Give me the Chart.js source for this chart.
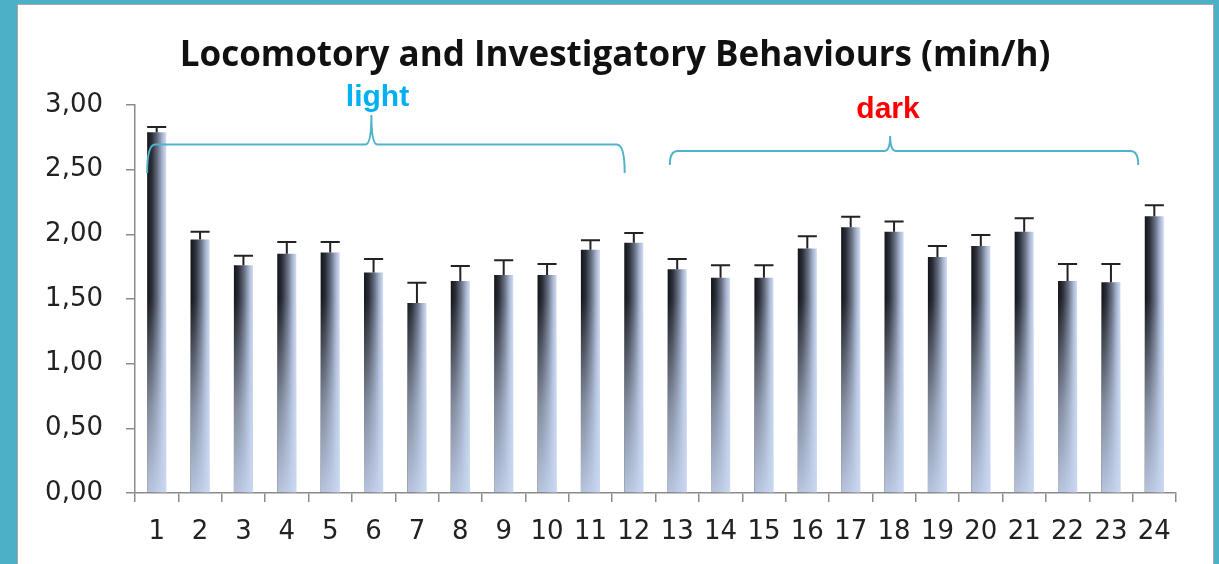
<!DOCTYPE html>
<html>
<head>
<meta charset="utf-8">
<script src="https://cdn.jsdelivr.net/npm/chart.js@4/dist/chart.umd.min.js"></script>
<style>
html,body{margin:0;padding:0;background:#4cb1c6;}
#wrap{width:1219px;height:564px;position:relative;}
canvas{display:block;}
</style>
</head>
<body>
<div id="wrap"><canvas id="c" width="1219" height="564"></canvas></div>
<script>
// ---- data ----
const hours = ['1','2','3','4','5','6','7','8','9','10','11','12','13','14','15','16','17','18','19','20','21','22','23','24'];
const meanValues = [2.79,1.96,1.76,1.85,1.86,1.705,1.47,1.64,1.685,1.685,1.88,1.935,1.73,1.665,1.665,1.89,2.055,2.02,1.825,1.91,2.02,1.64,1.63,2.14];
const errorValues = [0.04,0.06,0.075,0.09,0.08,0.105,0.155,0.115,0.115,0.085,0.075,0.075,0.08,0.095,0.095,0.095,0.08,0.08,0.085,0.085,0.105,0.13,0.14,0.085];
const yTickLabels = ['0,00','0,50','1,00','1,50','2,00','2,50','3,00'];
const titleText = 'Locomotory and Investigatory Behaviours (min/h)';
const phaseLabels = ['light','dark'];
// brace annotations in data units: [xStart, xTip, xEnd, yLine, yEnds, yTip, labelX, labelY]
const lightBrace = [-0.22, 4.95, 10.79, 2.695, 2.474, 2.923, 5.09, 2.992];
const darkBrace = [11.83, 16.91, 22.63, 2.644, 2.536, 2.760, 16.86, 2.897];

const BAR_PCT = 0.44;

const framePlugin = {
  id: 'frame',
  beforeDraw(chart) {
    const ctx = chart.ctx;
    ctx.save();
    ctx.fillStyle = '#4cb1c6';
    ctx.fillRect(0, 0, chart.width, chart.height);
    ctx.fillStyle = '#ffffff';
    ctx.fillRect(18, 5, 1195, chart.height);
    ctx.strokeStyle = '#a8a8a8';
    ctx.lineWidth = 1;
    ctx.beginPath();
    ctx.moveTo(17.5, chart.height); ctx.lineTo(17.5, 4.5); ctx.lineTo(1213.5, 4.5); ctx.lineTo(1213.5, chart.height);
    ctx.stroke();
    ctx.restore();
  }
};

const barDecor = {
  id: 'barDecor',
  afterDatasetsDraw(chart) {
    const ctx = chart.ctx;
    const meta = chart.getDatasetMeta(0);
    const ys = chart.scales.y;
    ctx.save();
    const y0 = ys.getPixelForValue(0);
    const g = ctx.createLinearGradient(0, ys.getPixelForValue(1.5), 0, y0);
    g.addColorStop(0, 'rgba(198,212,238,0)');
    g.addColorStop(0.55, 'rgba(198,212,238,0.6)');
    g.addColorStop(1, 'rgba(200,214,240,0.9)');
    meta.data.forEach((el) => {
      const p = el.getProps(['x','y','base','width'], true);
      const top = Math.max(p.y, ys.getPixelForValue(1.5));
      if (p.base > top) {
        ctx.fillStyle = g;
        ctx.fillRect(p.x - p.width/2, top, p.width, p.base - top);
      }
    });
    ctx.strokeStyle = '#222222';
    ctx.lineWidth = 2;
    meta.data.forEach((el, i) => {
      const p = el.getProps(['x','y','width'], true);
      const yc = ys.getPixelForValue(meanValues[i] + errorValues[i]);
      ctx.beginPath();
      ctx.moveTo(p.x, p.y);
      ctx.lineTo(p.x, yc);
      ctx.moveTo(p.x - p.width/2, yc);
      ctx.lineTo(p.x + p.width/2, yc);
      ctx.stroke();
    });
    ctx.restore();
  }
};

function drawBrace(chart, b, label, color) {
  const ctx = chart.ctx;
  const xs = chart.scales.x, ys = chart.scales.y;
  const x0 = xs.getPixelForValue(b[0]), xt = xs.getPixelForValue(b[1]), x1 = xs.getPixelForValue(b[2]);
  const yl = ys.getPixelForValue(b[3]), ye = ys.getPixelForValue(b[4]), yt = ys.getPixelForValue(b[5]);
  const r = 8, r2 = 6;
  ctx.save();
  ctx.strokeStyle = '#4fb3c9';
  ctx.lineWidth = 2;
  ctx.beginPath();
  ctx.moveTo(x0, ye);
  ctx.quadraticCurveTo(x0, yl, x0 + r, yl);
  ctx.lineTo(xt - r2, yl);
  ctx.quadraticCurveTo(xt, yl, xt, yt);
  ctx.quadraticCurveTo(xt, yl, xt + r2, yl);
  ctx.lineTo(x1 - r, yl);
  ctx.quadraticCurveTo(x1, yl, x1, ye);
  ctx.stroke();
  ctx.fillStyle = color;
  ctx.font = 'bold 30px "Liberation Sans", Arial, sans-serif';
  ctx.textAlign = 'center';
  ctx.textBaseline = 'alphabetic';
  ctx.fillText(label, xs.getPixelForValue(b[6]), ys.getPixelForValue(b[7]));
  ctx.restore();
}

const bracePlugin = {
  id: 'braces',
  afterDraw(chart) {
    drawBrace(chart, lightBrace, phaseLabels[0], '#00b0f0');
    drawBrace(chart, darkBrace, phaseLabels[1], '#ff0000');
  }
};

function barGradient(context) {
  const chart = context.chart;
  const xs = chart.scales.x;
  if (!chart.chartArea || !xs || context.type !== 'data') return '#7d8699';
  const cx = xs.getPixelForValue(context.dataIndex);
  const w = (xs.width / hours.length) * BAR_PCT;
  const g = chart.ctx.createLinearGradient(cx - w/2, 0, cx + w/2, 0);
  g.addColorStop(0, '#121418');
  g.addColorStop(0.25, '#2b2f38');
  g.addColorStop(0.55, '#687084');
  g.addColorStop(0.8, '#a9b6d0');
  g.addColorStop(1, '#d2ddf3');
  return g;
}

new Chart(document.getElementById('c'), {
  type: 'bar',
  data: {
    labels: hours,
    datasets: [{
      data: meanValues,
      backgroundColor: barGradient,
      borderWidth: 0,
      barPercentage: BAR_PCT,
      categoryPercentage: 1,
      yAxisID: 'y'
    }]
  },
  options: {
    responsive: false,
    animation: false,
    devicePixelRatio: 1,
    layout: { padding: { left: 11, right: 0, top: 0, bottom: 0 } },
    plugins: {
      legend: { display: false },
      tooltip: { enabled: false },
      title: {
        display: true,
        text: titleText,
        color: '#111111',
        font: { family: 'Open Sans', weight: 'bold', size: 35 },
        padding: { top: 35, bottom: 28 }
      }
    },
    scales: {
      x: {
        grid: { drawOnChartArea: false, drawTicks: true, tickLength: 9, color: '#8c8c8c', lineWidth: 1.5 },
        border: { color: '#8c8c8c', width: 1.5 },
        ticks: { color: '#222222', font: { family: 'DejaVu Sans', size: 26 }, padding: 15, maxRotation: 0, autoSkip: false },
        afterFit(scale) { scale.height = 71; }
      },
      y: {
        min: 0, max: 3,
        grid: { drawOnChartArea: false, drawTicks: true, tickLength: 9, color: '#8c8c8c', lineWidth: 1.5 },
        border: { color: '#8c8c8c', width: 1.5 },
        ticks: {
          stepSize: 0.5,
          color: '#222222',
          font: { family: 'DejaVu Sans', size: 26 },
          padding: 23,
          callback: (v) => yTickLabels[Math.round(v / 0.5)]
        },
        afterFit(scale) { scale.width = 124; }
      },
      yRight: {
        position: 'right',
        display: true,
        min: 0, max: 3,
        grid: { display: false, drawTicks: false },
        border: { display: false },
        ticks: { display: false },
        afterFit(scale) { scale.width = 43; }
      }
    }
  },
  plugins: [framePlugin, barDecor, bracePlugin]
});
</script>
</body>
</html>
